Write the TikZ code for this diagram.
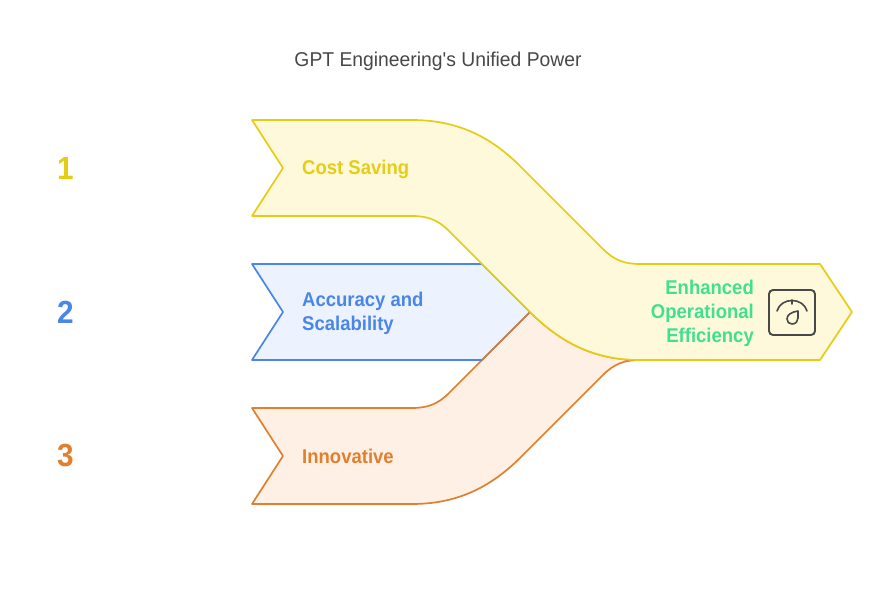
\documentclass[tikz,border=0pt]{standalone}
\usepackage{fontspec}
\setmainfont{Liberation Sans}
\newfontfamily\labfont[FakeStretch=0.93]{Liberation Sans}
\newfontfamily\titlefont[FakeStretch=0.965]{Liberation Sans}
\definecolor{cy}{HTML}{E5CD16}
\definecolor{fy}{HTML}{FFF9DB}
\definecolor{cb}{HTML}{4A86E8}
\definecolor{fb}{HTML}{ECF3FE}
\definecolor{co}{HTML}{E07F2E}
\definecolor{fo}{HTML}{FFF0E5}
\definecolor{cg}{HTML}{3FE08F}
\definecolor{ic}{HTML}{484848}
\tikzset{
  band/.style={line width=1.7pt,line join=round},
  lab/.style={font=\labfont\bfseries\fontsize{19.9}{24}\selectfont,inner sep=0pt,align=left,anchor=west},
  num/.style={font=\labfont\bfseries\fontsize{32}{36}\selectfont,inner sep=0pt},
}
\begin{document}
\begin{tikzpicture}[x=1pt,y=-1pt]
\useasboundingbox (0,0) rectangle (875,601);
% orange
\draw[band,draw=co,fill=fo] (252,408) -- (412,408) .. controls (428,408) and (438,404) .. (449,393) -- (530,312)
  .. controls (565,347) and (600,360) .. (640,360) .. controls (624,360) and (614,364) .. (603,375) -- (521,457)
  .. controls (489,489) and (455,504) .. (412,504) -- (252,504) -- (283,456) -- cycle;
% blue
\draw[band,draw=cb,fill=fb] (252,264) -- (482,264) -- (530,312) -- (482,360) -- (252,360) -- (283,312) -- cycle;
\draw[line width=1.7pt,draw=co] (482,360) -- (530,312);
% yellow
\draw[band,draw=cy,fill=fy] (252,120) -- (412,120) .. controls (455,120) and (489,135) .. (520,166) -- (603,249)
  .. controls (614,260) and (624,264) .. (640,264) -- (820,264) -- (852,312) -- (820,360) -- (640,360)
  .. controls (600,360) and (565,347) .. (530,312) -- (449,231)
  .. controls (438,220) and (428,216) .. (412,216) -- (252,216) -- (283,168) -- cycle;
% title
\node[inner sep=0pt,text=black!72,font=\titlefont\fontsize{20}{24}\selectfont] (title) at (438,61) {GPT Engineering\textquotesingle s Unified Power};
% numbers
\node[num,text=cy] (n1) at (65.5,168) {1};
\node[num,text=cb] (n2) at (65.5,312) {2};
\node[num,text=co] (n3) at (65.5,456) {3};
% labels
\node[lab,text=cy] (l1) at (302,169) {Cost Saving};
\node[lab,text=cb] (l2) at (302,313) {Accuracy and\\Scalability};
\node[lab,text=co] (l3) at (302,456) {Innovative};
\node[lab,text=cg,align=right,anchor=east] (l4) at (754,313) {Enhanced\\Operational\\Efficiency};
% icon
\draw[ic,line width=1.9pt,rounded corners=4pt] (769,290) rectangle (815,335);
\draw[ic,line width=1.6pt,line cap=round] (777,311) .. controls (781,297) and (803,297) .. (807,311);
\draw[ic,line width=1.6pt,line cap=round] (792,300) -- (792,304);
\draw[ic,line width=1.6pt,line join=round] (798,311) .. controls (791,312) and (787,315) .. (787,319) .. controls (787,322) and (789,324) .. (792,324) .. controls (796,324) and (798,321) .. (798,318) -- cycle;
\end{tikzpicture}
\end{document}
